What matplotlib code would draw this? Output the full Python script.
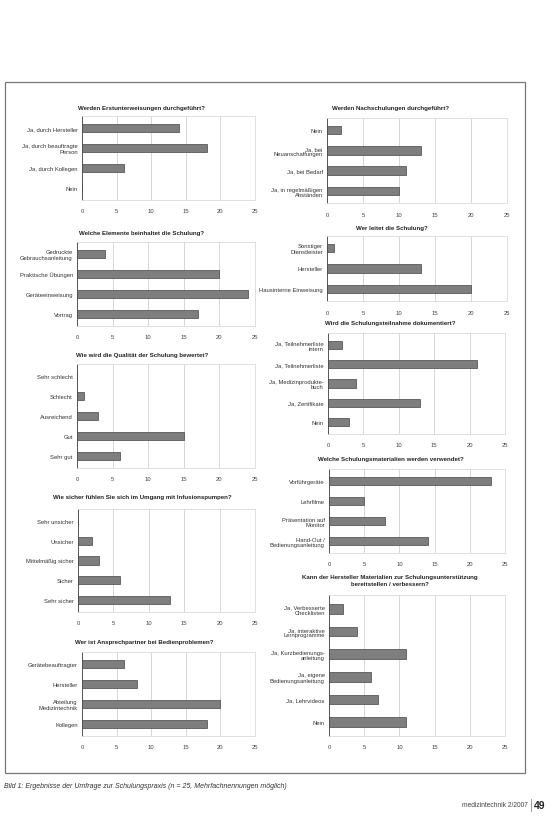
import matplotlib
matplotlib.use("Agg")
import matplotlib.pyplot as plt
from matplotlib.patches import Rectangle

plt.rcParams['font.family'] = ['Liberation Sans', 'DejaVu Sans']

W, H = 557, 837

# ---------------- data ----------------
t1 = "Werden Erstunterweisungen durchgeführt?"
c1 = ["Ja, durch Hersteller", "Ja, durch beauftragte\nPerson", "Ja, durch Kollegen", "Nein"]
v1 = [14, 18, 6, 0]

t2 = "Werden Nachschulungen durchgeführt?"
c2 = ["Nein", "Ja, bei\nNeuanschaffungen", "Ja, bei Bedarf", "Ja, in regelmäßigen\nAbständen"]
v2 = [2, 13, 11, 10]

t3 = "Welche Elemente beinhaltet die Schulung?"
c3 = ["Gedruckte\nGebrauchsanleitung", "Praktische Übungen", "Geräteeinweisung", "Vortrag"]
v3 = [4, 20, 24, 17]

t4 = "Wer leitet die Schulung?"
c4 = ["Sonstiger\nDienstleister", "Hersteller", "Hausinterne Einweisung"]
v4 = [1, 13, 20]

t5 = "Wie wird die Qualität der Schulung bewertet?"
c5 = ["Sehr schlecht", "Schlecht", "Ausreichend", "Gut", "Sehr gut"]
v5 = [0, 1, 3, 15, 6]

t6 = "Wird die Schulungsteilnahme dokumentiert?"
c6 = ["Ja, Teilnehmerliste\nintern", "Ja, Teilnehmerliste", "Ja, Medizinprodukte-\nbuch", "Ja, Zertifikate", "Nein"]
v6 = [2, 21, 4, 13, 3]

t7 = "Wie sicher fühlen Sie sich im Umgang mit Infusionspumpen?"
c7 = ["Sehr unsicher", "Unsicher", "Mittelmäßig sicher", "Sicher", "Sehr sicher"]
v7 = [0, 2, 3, 6, 13]

t8 = "Welche Schulungsmaterialien werden verwendet?"
c8 = ["Vorführgeräte", "Lehrfilme", "Präsentation auf\nMonitor", "Hand-Out /\nBedienungsanleitung"]
v8 = [23, 5, 8, 14]

t9 = "Wer ist Ansprechpartner bei Bedienproblemen?"
c9 = ["Gerätebeauftragter", "Hersteller", "Abteilung\nMedizintechnik", "Kollegen"]
v9 = [6, 8, 20, 18]

t10 = "Kann der Hersteller Materialien zur Schulungsunterstützung\nbereitstellen / verbessern?"
c10 = ["Ja, Verbesserte\nChecklisten", "Ja, interaktive\nLernprogramme", "Ja, Kurzbedienungs-\nanleitung",
       "Ja, eigene\nBedienungsanleitung", "Ja, Lehrvideos", "Nein"]
v10 = [2, 4, 11, 6, 7, 11]

xticks = [0, 5, 10, 15, 20, 25]

caption = "Bild 1: Ergebnisse der Umfrage zur Schulungspraxis (n = 25, Mehrfachnennungen möglich)"
footer = "medizintechnik 2/2007"
pagenum = "49"

# ---------------- drawing ----------------
fig = plt.figure(figsize=(W / 100, H / 100), dpi=100)
fig.patch.set_facecolor('white')

# outer frame
fig.add_artist(Rectangle((5 / W, 1 - 774 / H), (525 - 5) / W, (774 - 83) / H,
                         transform=fig.transFigure, fill=False, edgecolor='#777777', lw=0.9))


def chart(title, cats, vals, x0, x1, yfirst, ylast, tx, ty):
    n = len(cats)
    s = (ylast - yfirst) / (n - 1)
    top = yfirst - 0.6 * s
    bot = ylast + 0.6 * s
    ax = fig.add_axes([x0 / W, 1 - bot / H, (x1 - x0) / W, (bot - top) / H])
    ax.barh(range(n), vals, height=0.42, color='#7e7e7e', edgecolor='#454545', linewidth=0.5, zorder=3)
    ax.set_ylim(n - 0.5 + 0.1, -0.5 - 0.1)
    ax.set_xlim(0, 25)
    ax.set_xticks(xticks)
    ax.set_xticklabels([str(t) for t in xticks], fontsize=4.2, color='#444444')
    ax.set_yticks(range(n))
    ax.set_yticklabels(cats, fontsize=4.2, color='#333333', linespacing=1.1)
    ax.tick_params(axis='both', length=0, pad=3)
    ax.tick_params(axis='x', pad=6)
    ax.grid(axis='x', color='#d0d0d0', lw=0.6, zorder=0)
    for sp in ['top', 'right', 'bottom']:
        ax.spines[sp].set_color('#dadada')
        ax.spines[sp].set_linewidth(0.6)
    ax.spines['left'].set_color('#555555')
    ax.spines['left'].set_linewidth(0.7)
    fig.text(tx / W, 1 - ty / H, title, ha='center', va='center', fontsize=4.4,
             fontweight='bold', color='#222222', linespacing=1.3)
    return ax


chart(t1, c1, v1, 82, 255, 129, 189, 142, 109)
chart(t2, c2, v2, 327, 507, 131, 192, 391, 109)
chart(t3, c3, v3, 77, 255, 255, 315, 142, 234)
chart(t4, c4, v4, 327, 507, 249, 290, 392, 229)
chart(t5, c5, v5, 77, 255, 377, 457, 142, 355)
chart(t6, c6, v6, 328, 505, 346, 423, 390, 324)
chart(t7, c7, v7, 78, 255, 522, 601, 142, 498)
chart(t8, c8, v8, 329, 505, 482, 542, 391, 460)
chart(t9, c9, v9, 82, 255, 665, 725, 144, 643)
chart(t10, c10, v10, 329, 505, 610, 723, 390, 581)

fig.text(4 / W, 1 - 787 / H, caption, ha='left', va='center', fontsize=5.0,
         style='italic', color='#333333')
fig.text(528 / W, 1 - 806 / H, footer, ha='right', va='center', fontsize=4.8, color='#444444')
fig.text(534 / W, 1 - 806 / H, pagenum, ha='left', va='center', fontsize=7.5,
         fontweight='bold', color='#222222')
fig.add_artist(plt.Line2D([531 / W, 531 / W], [1 - 800 / H, 1 - 812 / H],
                          transform=fig.transFigure, color='#888888', lw=0.6))

fig.savefig("out.png", dpi=100, facecolor='white')
